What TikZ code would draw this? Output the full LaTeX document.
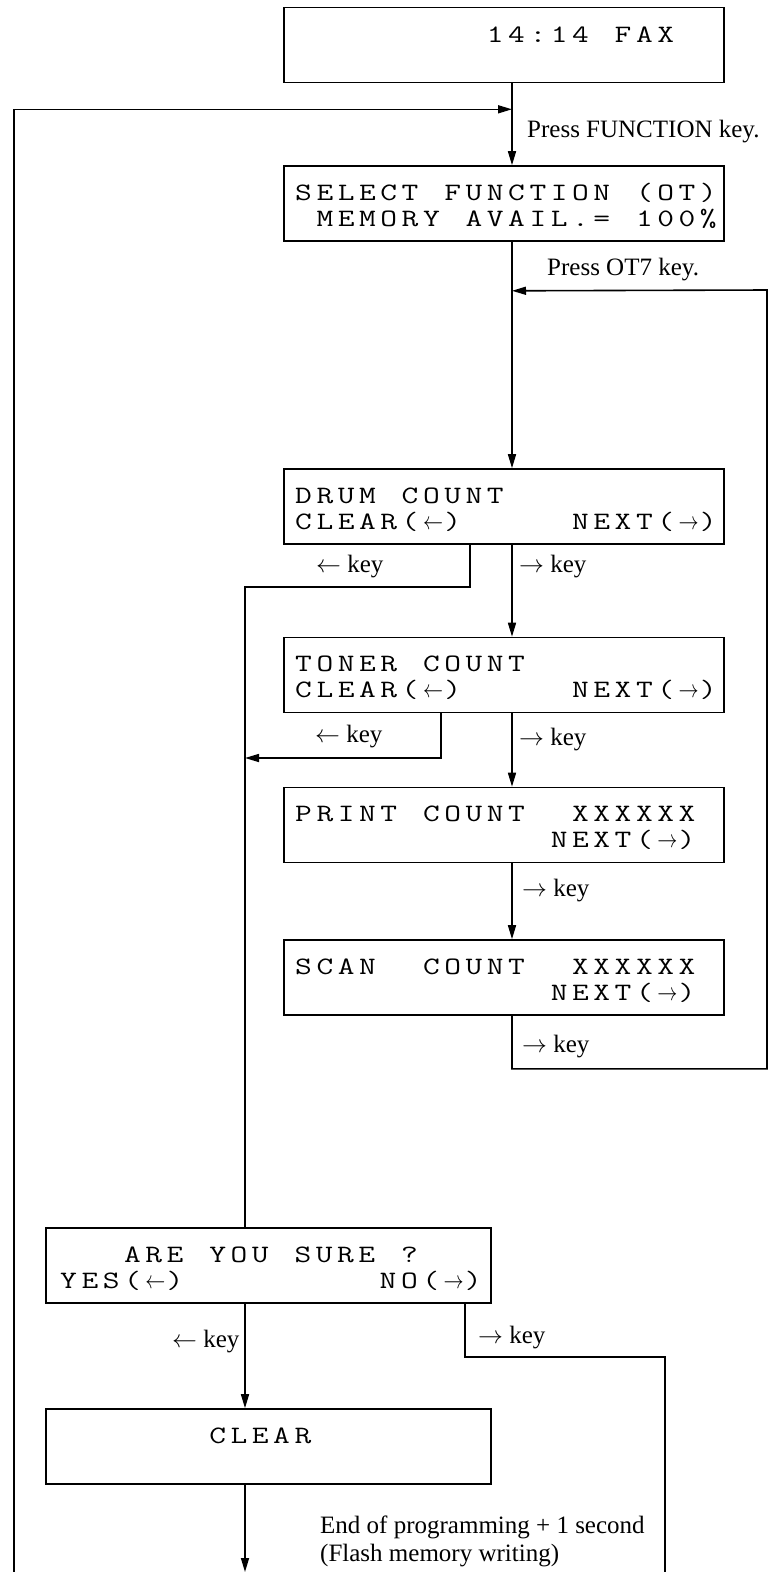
\documentclass[tikz,border=0pt]{standalone}
\usepackage{graphicx}
\usepackage{fontspec}
\setmainfont{Liberation Serif}
\usetikzlibrary{arrows.meta,calc}

\newcommand\lcdcell[1]{\makebox[21.3pt][l]{\scalebox{1.3}[1]{#1}}}
\def\lcdl#1{\ifx#1\relax\else\lcdcell{#1}\expandafter\lcdl\fi}
\newcommand\LA{$\leftarrow$}
\newcommand\RA{$\rightarrow$}
\newcommand\DLA{\scalebox{0.62}[1]{$\leftarrow$}}
\newcommand\DRA{\scalebox{0.62}[1]{$\rightarrow$}}

\begin{document}
\begin{tikzpicture}[x=1pt,y=-1pt,
  box/.style={draw, line width=1.6pt, minimum width=440pt, minimum height=75pt, inner sep=0pt},
  lcd/.style={font=\ttfamily\fontsize{25}{27}\selectfont, inner sep=0pt, anchor=base west},
  lab/.style={font=\fontsize{25}{27}\selectfont, inner sep=0pt, anchor=base west},
  line/.style={line width=1.6pt},
  arr/.style={line width=1.6pt, -{Triangle[length=14pt,width=8pt]}}]
\useasboundingbox (0,0) rectangle (778,1572);

% boxes
\node[box] (fax) at (504,45) {};
\node[box] (sel) at (504,203.5) {};
\node[box] (drum) at (504,506.5) {};
\node[box] (toner) at (504,675) {};
\node[box] (print) at (504,825) {};
\node[box] (scan) at (504,977.5) {};
\node[box, minimum width=445pt] (sure) at (268.5,1265.5) {};
\node[box, minimum width=445pt] (clr) at (268.5,1446.5) {};

% display texts
\node[lcd] (faxt) at (295,42) {\lcdl ~~~~~~~~~14:14~FAX\relax};
\node[lcd] (selt1) at (295,200) {\lcdl SELECT~FUNCTION~(OT)\relax};
\node[lcd] (selt2) at (295,226) {\lcdl ~MEMORY~AVAIL.=~100\%\relax};
\node[lcd] (drumt1) at (295,503) {\lcdl DRUM~COUNT\relax};
\node[lcd] (drumt2) at (295,529) {\lcdl CLEAR(\DLA)~~~~~NEXT(\DRA)\relax};
\node[lcd] (tont1) at (295,671) {\lcdl TONER~COUNT\relax};
\node[lcd] (tont2) at (295,697) {\lcdl CLEAR(\DLA)~~~~~NEXT(\DRA)\relax};
\node[lcd] (prt1) at (295,821) {\lcdl PRINT~COUNT~~XXXXXX\relax};
\node[lcd] (prt2) at (295,847) {\lcdl ~~~~~~~~~~~~NEXT(\DRA)\relax};
\node[lcd] (sct1) at (295,974) {\lcdl SCAN~~COUNT~~XXXXXX\relax};
\node[lcd] (sct2) at (295,1000) {\lcdl ~~~~~~~~~~~~NEXT(\DRA)\relax};
\node[lcd] (suret1) at (60,1262) {\lcdl ~~~ARE~YOU~SURE~?\relax};
\node[lcd] (suret2) at (60,1288) {\lcdl YES(\DLA)~~~~~~~~~NO(\DRA)\relax};
\node[lcd] (clrt) at (60,1443) {\lcdl ~~~~~~~CLEAR\relax};

% free ends
\coordinate (lt) at (14,1572);
\coordinate (jn) at (245,758);
\coordinate (rl) at (767,290);
\coordinate (rb) at (665,1572);
\coordinate (bt) at (245,1572);

% connectors
\draw[arr] ($(fax.south)+(8,0)$) -- ($(sel.north)+(8,0)$);
\draw[arr] (lt) |- ($(fax.south)+(8,26)$);
\draw[arr] ($(sel.south)+(8,0)$) -- ($(drum.north)+(8,0)$);
\draw[arr] ($(scan.south)+(8,0)$) -- ++(0,53) -| (rl) -- ($(sel.south)+(8,49)$);
\draw[line] ($(drum.south)+(-34,0)$) -- ++(0,42) -| ($(sure.north)+(-23.5,0)$);
\draw[arr] ($(drum.south)+(8,0)$) -- ($(toner.north)+(8,0)$);
\draw[arr] ($(toner.south)+(-63,0)$) |- (jn);
\draw[arr] ($(toner.south)+(8,0)$) -- ($(print.north)+(8,0)$);
\draw[arr] ($(print.south)+(8,0)$) -- ($(scan.north)+(8,0)$);
\draw[arr] ($(sure.south)+(-23.5,0)$) -- ($(clr.north)+(-23.5,0)$);
\draw[line] ($(sure.south)+(196.5,0)$) -- ++(0,53) -| (rb);
\draw[arr] ($(clr.south)+(-23.5,0)$) -- (bt);

% labels
\node[lab] (l1) at (527,137) {Press FUNCTION key.};
\node[lab] (l2) at (547,275) {Press OT7 key.};
\node[lab] (l3) at (316,572) {\LA\ key};
\node[lab] (l4) at (519,572) {\RA\ key};
\node[lab] (l5) at (315,742) {\LA\ key};
\node[lab] (l6) at (519,745) {\RA\ key};
\node[lab] (l7) at (522,896) {\RA\ key};
\node[lab] (l8) at (522,1052) {\RA\ key};
\node[lab] (l9) at (172,1347) {\LA\ key};
\node[lab] (l10) at (478,1343) {\RA\ key};
\node[lab] (l11) at (320,1533) {End of programming + 1 second};
\node[lab] (l12) at (320,1561) {(Flash memory writing)};
\end{tikzpicture}
\end{document}
